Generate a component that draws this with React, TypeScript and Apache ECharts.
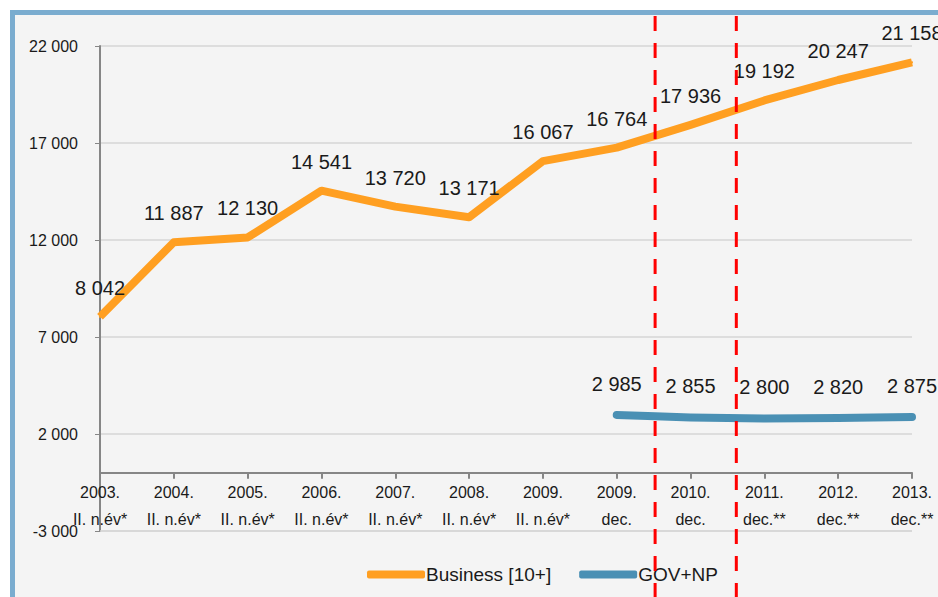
import React, { useEffect, useRef } from "react";
import * as echarts from "echarts";

const categories = [
  "2003.\nII. n.év*", "2004.\nII. n.év*", "2005.\nII. n.év*", "2006.\nII. n.év*",
  "2007.\nII. n.év*", "2008.\nII. n.év*", "2009.\nII. n.év*", "2009.\ndec.",
  "2010.\ndec.", "2011.\ndec.**", "2012.\ndec.**", "2013.\ndec.**",
];
const business = [8042, 11887, 12130, 14541, 13720, 13171, 16067, 16764, 17936, 19192, 20247, 21158];
const govNp = [null, null, null, null, null, null, null, 2985, 2855, 2800, 2820, 2875];
const dividerPositions = [7.52, 8.62]; // fractional category positions of the red dashed lines
const yMin = -3000;
const yMax = 22000;
const yStep = 5000;

const FONT = "'Liberation Sans', Arial, sans-serif";
const fmt = (v: number) => String(v).replace(/\B(?=(\d{3})+(?!\d))/g, " ");

const GRID_TOP = 46;
const GRID_BOTTOM = 66;
const H = 597;

export default function App() {
  const ref = useRef<HTMLDivElement>(null);
  useEffect(() => {
    if (!ref.current) return;
    const chart = echarts.init(ref.current, undefined, { renderer: "svg" });
    const gridH = H - GRID_TOP - GRID_BOTTOM;
    const zeroOffset = -gridH * (0 - yMin) / (yMax - yMin);
    const option: any = {
      animation: false,
      backgroundColor: "transparent",
      textStyle: { fontFamily: FONT },
      grid: { left: 100, right: 26, top: GRID_TOP, bottom: GRID_BOTTOM, containLabel: false },
      legend: {
        left: 362,
        top: 560,
        icon: "roundRect",
        itemWidth: 58,
        itemHeight: 8,
        itemGap: 28,
        textStyle: { fontFamily: FONT, fontSize: 19, color: "#1a1a1a", padding: [0, 0, 0, -4] },
        data: ["Business [10+]", "GOV+NP"],
      },
      xAxis: {
        type: "category",
        data: categories,
        boundaryGap: false,
        position: "bottom",
        offset: zeroOffset,
        axisLine: { onZero: false, lineStyle: { color: "#868686", width: 2 } },
        axisTick: { show: true, length: 6, inside: false, lineStyle: { color: "#868686", width: 2 } },
        axisLabel: {
          interval: 0,
          margin: 6,
          fontFamily: FONT,
          fontSize: 16,
          lineHeight: 27,
          color: "#1a1a1a",
        },
        splitLine: { show: false },
      },
      yAxis: {
        type: "value",
        min: yMin,
        max: yMax,
        interval: yStep,
        axisLine: { show: true, lineStyle: { color: "#868686", width: 2 } },
        axisTick: { show: true, length: 5, lineStyle: { color: "#868686", width: 1 } },
        axisLabel: {
          margin: 22,
          fontFamily: FONT,
          fontSize: 16,
          color: "#1a1a1a",
          formatter: (v: number) => fmt(v),
        },
        splitLine: { show: true, showMinLine: true, lineStyle: { color: "#d6d6d6", width: 1.5 } },
      },
      series: [
        {
          name: "Business [10+]",
          type: "line",
          data: business,
          smooth: false,
          symbol: "circle",
          symbolSize: 2,
          lineStyle: { color: "#ff9f21", width: 8, cap: "butt", join: "round" },
          itemStyle: { color: "#ff9f21" },
          label: {
            show: true,
            position: "top",
            distance: 18,
            fontFamily: FONT,
            fontSize: 20,
            color: "#1a1a1a",
            formatter: (p: any) => fmt(p.value),
          },
          markLine: {
            silent: true,
            symbol: "none",
            label: { show: false },
            lineStyle: { color: "#d6d6d6", width: 1.5, type: "solid" },
            data: [{ yAxis: yMin }],
            z: 1,
          },
          z: 3,
        },
        {
          name: "GOV+NP",
          type: "line",
          data: govNp,
          smooth: 0.2,
          symbol: "circle",
          symbolSize: 2,
          lineStyle: { color: "#4a90b4", width: 8, cap: "round", join: "round" },
          itemStyle: { color: "#4a90b4" },
          label: {
            show: true,
            position: "top",
            distance: 20,
            fontFamily: FONT,
            fontSize: 20,
            color: "#1a1a1a",
            formatter: (p: any) => fmt(p.value),
          },
          z: 3,
        },
      ],
    };
    chart.setOption(option);

    const lines = dividerPositions.map((pos) => {
      const i = Math.floor(pos);
      const x0 = chart.convertToPixel({ xAxisIndex: 0 }, i) as number;
      const x1 = chart.convertToPixel({ xAxisIndex: 0 }, i + 1) as number;
      const x = x0 + (x1 - x0) * (pos - i);
      return {
        type: "line",
        shape: { x1: x, y1: 16, x2: x, y2: H },
        style: { stroke: "#ff0000", lineWidth: 3, lineDash: [15, 12] },
        z: 100,
      };
    });
    chart.setOption({ graphic: lines });

    return () => chart.dispose();
  }, []);

  return (
    <div style={{ position: "absolute", left: 0, top: 0, width: 938, height: H, background: "#ffffff", overflow: "hidden" }}>
      <div
        style={{
          position: "absolute",
          left: 10,
          top: 10,
          right: 0,
          bottom: 0,
          background: "#f4f4f4",
          borderTop: "5px solid #7aaccf",
          borderLeft: "5px solid #7aaccf",
        }}
      />
      <div ref={ref} style={{ position: "absolute", left: 0, top: 0, width: 938, height: H }} />
    </div>
  );
}
